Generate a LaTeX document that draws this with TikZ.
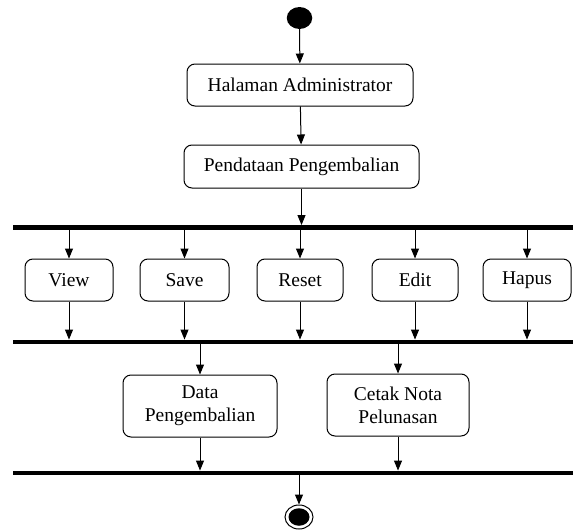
\documentclass[tikz,border=0pt]{standalone}
\usepackage{fontspec}
\setmainfont{Liberation Serif}
\usetikzlibrary{arrows.meta,shapes.geometric}
\begin{document}
\begin{tikzpicture}[x=1pt,y=-1pt,
  every node/.style={font=\fontsize{19.5}{23}\selectfont},
  act/.style={draw,line width=1pt,rounded corners=8pt,inner sep=0pt,minimum height=42pt,align=center},
  bar/.style={fill=black,inner sep=0pt,minimum width=560pt,minimum height=4.5pt},
  arr/.style={draw,line width=1pt,-{Triangle[length=10pt,width=8pt]}}
]
% canvas
\useasboundingbox[fill=white] (0,0) rectangle (575,530);

% start and end states
\node[ellipse,fill=black,inner sep=0pt,minimum width=25.5pt,minimum height=22pt] (start) at (299.5,18) {};
\node[ellipse,draw,line width=1pt,inner sep=0pt,minimum width=28pt,minimum height=24pt] (finish) at (299,517) {};
\node[ellipse,fill=black,inner sep=0pt,minimum width=21pt,minimum height=17.5pt] (finishdot) at (299,517) {};

% activities
\node[act,minimum width=226pt] (halaman) at (300,85) {Halaman Administrator};
\node[act,minimum width=235pt,minimum height=43pt] (pendataan) at (301.5,166.5) {Pendataan Pengembalian};

\node[act,minimum width=88pt] (view) at (69,280) {View};
\node[act,minimum width=89pt] (save) at (184.5,280) {Save};
\node[act,minimum width=86pt] (reset) at (300,280) {Reset};
\node[act,minimum width=86pt] (edit) at (415,280) {Edit};
\node[act,minimum width=88pt] (hapus) at (527,280) {Hapus};

\node[act,minimum width=154pt,minimum height=62pt] (data) at (200,406) {Data\\Pengembalian};
\node[act,minimum width=142pt,minimum height=62pt] (cetak) at (398,405) {Cetak Nota\\Pelunasan};

% synchronisation bars
\node[bar] (bar1) at (293,227.5) {};
\node[bar] (bar2) at (293,342) {};
\node[bar] (bar3) at (293,473) {};

% flows
\draw[arr] (start) -- (halaman);
\draw[arr] (halaman) -- (pendataan);
\draw[arr] (pendataan.south) -- (pendataan.south |- bar1.north);

\foreach \n in {view,save,reset,edit,hapus}{
  \draw[arr] (\n.north |- bar1.south) -- (\n.north);
  \draw[arr] (\n.south) -- (\n.south |- bar2.north);
}

\foreach \n in {data,cetak}{
  \draw[arr] (\n.north |- bar2.south) -- (\n.north);
  \draw[arr] (\n.south) -- (\n.south |- bar3.north);
}

\draw[arr] (finish.north |- bar3.south) -- (finish.north);
\end{tikzpicture}
\end{document}
